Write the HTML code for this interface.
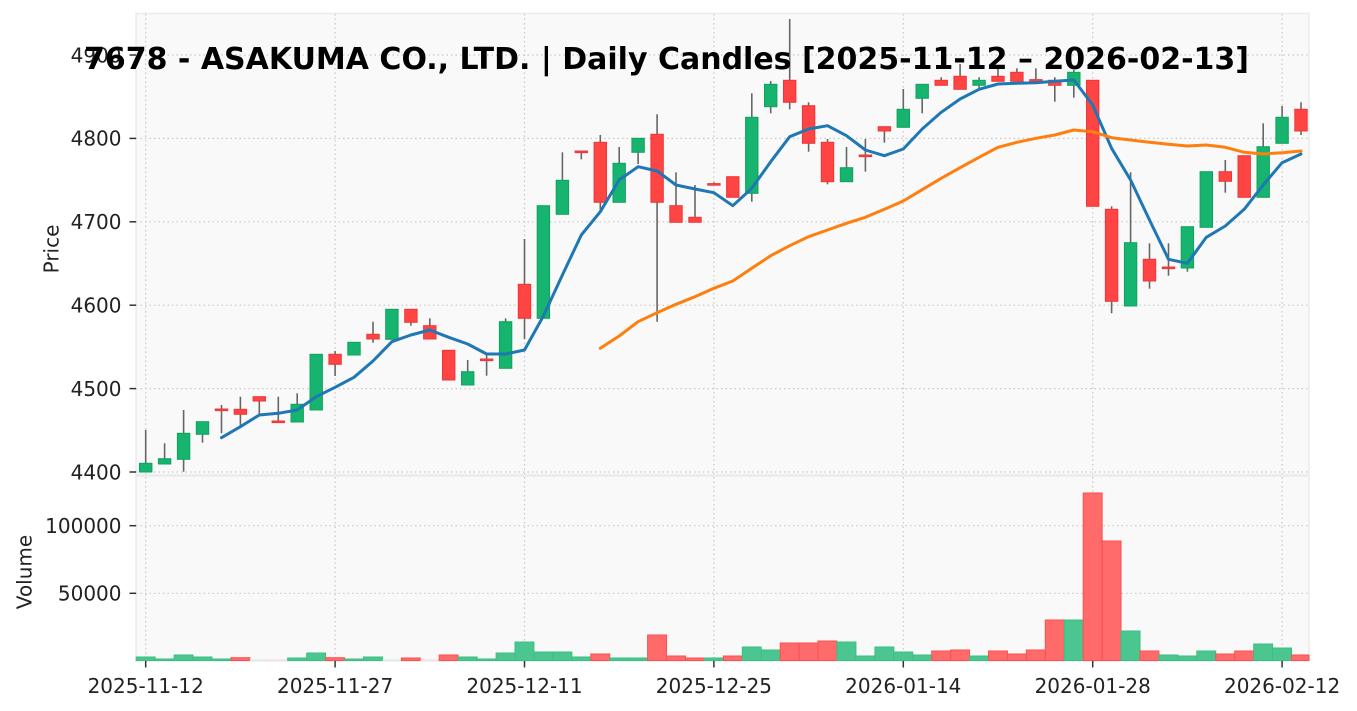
<!DOCTYPE html>
<html><head><meta charset="utf-8"><style>
html,body{margin:0;padding:0;background:#fff;}
svg{display:block;}
text{font-family:"DejaVu Sans","Liberation Sans",sans-serif;fill:#222;}
.grid{stroke:#c9c9c9;stroke-width:1.2;stroke-dasharray:1.5,3;}
.w{stroke:#666;stroke-width:1.6;}
.g{fill:#16b46e;stroke:#0ea35d;stroke-width:1;}
.r{fill:#ff4444;stroke:#ee3636;stroke-width:1;}
.vg{fill:#4cc690;stroke:#3bbf82;stroke-width:1;}
.vr{fill:#ff6b6b;stroke:#ff4f4f;stroke-width:1;}
.vpg{fill:#d4efe2;}
.vpr{fill:#fbd6d6;}
.tk{stroke:#333;stroke-width:1.5;}
</style></head><body>
<svg width="1357" height="711" viewBox="0 0 1357 711" xmlns="http://www.w3.org/2000/svg">
<rect x="0" y="0" width="1357" height="711" fill="#fff"/>
<rect x="136" y="13.5" width="1173" height="461.5" fill="#f9f9f9" stroke="#ebebeb" stroke-width="1.5"/>
<rect x="136" y="476" width="1173" height="185" fill="#f9f9f9" stroke="#ebebeb" stroke-width="1.5"/>
<g class="grid">
<line x1="136" y1="472" x2="1309" y2="472"/>
<line x1="136" y1="388.6" x2="1309" y2="388.6"/>
<line x1="136" y1="305.2" x2="1309" y2="305.2"/>
<line x1="136" y1="221.8" x2="1309" y2="221.8"/>
<line x1="136" y1="138.4" x2="1309" y2="138.4"/>
<line x1="136" y1="55" x2="1309" y2="55"/>
<line x1="136" y1="525.7" x2="1309" y2="525.7"/>
<line x1="136" y1="593.3" x2="1309" y2="593.3"/>
<line x1="145.7" y1="14" x2="145.7" y2="474"/><line x1="145.7" y1="477" x2="145.7" y2="660"/>
<line x1="335.1" y1="14" x2="335.1" y2="474"/><line x1="335.1" y1="477" x2="335.1" y2="660"/>
<line x1="524.5" y1="14" x2="524.5" y2="474"/><line x1="524.5" y1="477" x2="524.5" y2="660"/>
<line x1="713.9" y1="14" x2="713.9" y2="474"/><line x1="713.9" y1="477" x2="713.9" y2="660"/>
<line x1="903.3" y1="14" x2="903.3" y2="474"/><line x1="903.3" y1="477" x2="903.3" y2="660"/>
<line x1="1092.7" y1="14" x2="1092.7" y2="474"/><line x1="1092.7" y1="477" x2="1092.7" y2="660"/>
<line x1="1282.1" y1="14" x2="1282.1" y2="474"/><line x1="1282.1" y1="477" x2="1282.1" y2="660"/>
</g>
<g class="w">
<line x1="145.7" y1="430" x2="145.7" y2="472"/>
<line x1="164.6" y1="443.3" x2="164.6" y2="464"/>
<line x1="183.6" y1="410" x2="183.6" y2="471.7"/>
<line x1="202.5" y1="421.7" x2="202.5" y2="442.7"/>
<line x1="221.5" y1="405" x2="221.5" y2="433.3"/>
<line x1="240.4" y1="396.7" x2="240.4" y2="426.7"/>
<line x1="259.3" y1="396.7" x2="259.3" y2="415"/>
<line x1="278.3" y1="396.7" x2="278.3" y2="421.7"/>
<line x1="297.2" y1="393.3" x2="297.2" y2="422"/>
<line x1="335.1" y1="351" x2="335.1" y2="376"/>
<line x1="373.0" y1="321.7" x2="373.0" y2="342.7"/>
<line x1="410.9" y1="309.3" x2="410.9" y2="325.7"/>
<line x1="429.8" y1="318.3" x2="429.8" y2="339"/>
<line x1="467.7" y1="360" x2="467.7" y2="385"/>
<line x1="486.6" y1="355" x2="486.6" y2="375.7"/>
<line x1="505.6" y1="318.3" x2="505.6" y2="368.3"/>
<line x1="524.5" y1="239" x2="524.5" y2="339"/>
<line x1="562.4" y1="152.3" x2="562.4" y2="214.3"/>
<line x1="581.3" y1="151.7" x2="581.3" y2="159.3"/>
<line x1="600.3" y1="135" x2="600.3" y2="210"/>
<line x1="619.2" y1="147" x2="619.2" y2="202.3"/>
<line x1="638.1" y1="138.3" x2="638.1" y2="164"/>
<line x1="657.1" y1="114.3" x2="657.1" y2="321.7"/>
<line x1="676.0" y1="172.3" x2="676.0" y2="222.3"/>
<line x1="695.0" y1="185" x2="695.0" y2="222.3"/>
<line x1="713.9" y1="182.3" x2="713.9" y2="185.3"/>
<line x1="751.8" y1="93.3" x2="751.8" y2="201.7"/>
<line x1="770.7" y1="81" x2="770.7" y2="113.3"/>
<line x1="789.7" y1="19" x2="789.7" y2="109.3"/>
<line x1="808.6" y1="102.3" x2="808.6" y2="151.7"/>
<line x1="827.5" y1="139" x2="827.5" y2="184.3"/>
<line x1="846.5" y1="147" x2="846.5" y2="181.7"/>
<line x1="865.4" y1="139" x2="865.4" y2="171.7"/>
<line x1="884.4" y1="126.7" x2="884.4" y2="142.7"/>
<line x1="903.3" y1="89" x2="903.3" y2="127.3"/>
<line x1="922.2" y1="84.3" x2="922.2" y2="113.3"/>
<line x1="941.2" y1="77.3" x2="941.2" y2="85.3"/>
<line x1="960.1" y1="64" x2="960.1" y2="89.3"/>
<line x1="979.1" y1="77.3" x2="979.1" y2="88.3"/>
<line x1="998.0" y1="68.3" x2="998.0" y2="81.3"/>
<line x1="1016.9" y1="68.3" x2="1016.9" y2="81.3"/>
<line x1="1035.9" y1="68.3" x2="1035.9" y2="82"/>
<line x1="1054.8" y1="77.3" x2="1054.8" y2="101.7"/>
<line x1="1073.8" y1="70" x2="1073.8" y2="97.7"/>
<line x1="1111.6" y1="206.3" x2="1111.6" y2="313.3"/>
<line x1="1130.6" y1="172.3" x2="1130.6" y2="306"/>
<line x1="1149.5" y1="243.3" x2="1149.5" y2="288.7"/>
<line x1="1168.5" y1="243.3" x2="1168.5" y2="275.7"/>
<line x1="1187.4" y1="226.7" x2="1187.4" y2="271.7"/>
<line x1="1225.3" y1="160" x2="1225.3" y2="192.7"/>
<line x1="1263.2" y1="123.3" x2="1263.2" y2="197.3"/>
<line x1="1282.1" y1="106" x2="1282.1" y2="143.3"/>
<line x1="1301.0" y1="102.3" x2="1301.0" y2="135"/>
</g>
<g>
<rect class="g" x="139.5" y="463.3" width="12.4" height="8.7"/>
<rect class="g" x="158.4" y="458.7" width="12.4" height="5.3"/>
<rect class="g" x="177.4" y="433.3" width="12.4" height="26"/>
<rect class="g" x="196.3" y="421.7" width="12.4" height="12.6"/>
<rect class="r" x="215.3" y="409" width="12.4" height="1.6"/>
<rect class="r" x="234.2" y="409.3" width="12.4" height="5"/>
<rect class="r" x="253.1" y="396.7" width="12.4" height="4.3"/>
<rect class="r" x="272.1" y="421" width="12.4" height="1.6"/>
<rect class="g" x="291" y="404.3" width="12.4" height="17.7"/>
<rect class="g" x="310" y="354.3" width="12.4" height="55.7"/>
<rect class="r" x="328.9" y="354.3" width="12.4" height="10"/>
<rect class="g" x="347.8" y="342.3" width="12.4" height="12.7"/>
<rect class="r" x="366.8" y="334.3" width="12.4" height="4.7"/>
<rect class="g" x="385.7" y="309.3" width="12.4" height="30"/>
<rect class="r" x="404.7" y="309.3" width="12.4" height="13"/>
<rect class="r" x="423.6" y="325.7" width="12.4" height="13.3"/>
<rect class="r" x="442.5" y="350.3" width="12.4" height="29.7"/>
<rect class="g" x="461.5" y="371.7" width="12.4" height="13.3"/>
<rect class="r" x="480.4" y="359" width="12.4" height="1.6"/>
<rect class="g" x="499.4" y="321.7" width="12.4" height="46.6"/>
<rect class="r" x="518.3" y="284.3" width="12.4" height="34"/>
<rect class="g" x="537.2" y="205.7" width="12.4" height="112.6"/>
<rect class="g" x="556.2" y="180.3" width="12.4" height="34"/>
<rect class="r" x="575.1" y="151" width="12.4" height="1.6"/>
<rect class="r" x="594.1" y="142.3" width="12.4" height="60"/>
<rect class="g" x="613" y="163.3" width="12.4" height="39"/>
<rect class="g" x="631.9" y="138.3" width="12.4" height="14"/>
<rect class="r" x="650.9" y="134.3" width="12.4" height="68"/>
<rect class="r" x="669.8" y="205.7" width="12.4" height="16.6"/>
<rect class="r" x="688.8" y="217.3" width="12.4" height="5"/>
<rect class="r" x="707.7" y="183.6" width="12.4" height="1.6"/>
<rect class="r" x="726.6" y="176.7" width="12.4" height="20.6"/>
<rect class="g" x="745.6" y="117.3" width="12.4" height="76"/>
<rect class="g" x="764.5" y="84.3" width="12.4" height="22.4"/>
<rect class="r" x="783.5" y="80.3" width="12.4" height="22"/>
<rect class="r" x="802.4" y="105.7" width="12.4" height="37.6"/>
<rect class="r" x="821.3" y="142.3" width="12.4" height="39.4"/>
<rect class="g" x="840.3" y="167.7" width="12.4" height="14"/>
<rect class="r" x="859.2" y="155" width="12.4" height="1.6"/>
<rect class="r" x="878.2" y="126.7" width="12.4" height="4.3"/>
<rect class="g" x="897.1" y="109.3" width="12.4" height="18"/>
<rect class="g" x="916" y="84.3" width="12.4" height="14"/>
<rect class="r" x="935" y="80.3" width="12.4" height="5"/>
<rect class="r" x="953.9" y="76.3" width="12.4" height="13"/>
<rect class="g" x="972.9" y="80.3" width="12.4" height="5"/>
<rect class="r" x="991.8" y="76.3" width="12.4" height="5"/>
<rect class="r" x="1010.7" y="72.3" width="12.4" height="9"/>
<rect class="r" x="1029.7" y="79.6" width="12.4" height="1.6"/>
<rect class="r" x="1048.6" y="80.3" width="12.4" height="5"/>
<rect class="g" x="1067.6" y="72.3" width="12.4" height="13"/>
<rect class="r" x="1086.5" y="80.3" width="12.4" height="126"/>
<rect class="r" x="1105.4" y="209.3" width="12.4" height="92"/>
<rect class="g" x="1124.4" y="242.7" width="12.4" height="63.3"/>
<rect class="r" x="1143.3" y="259.3" width="12.4" height="21.7"/>
<rect class="r" x="1162.3" y="267" width="12.4" height="1.6"/>
<rect class="g" x="1181.2" y="226.7" width="12.4" height="41.3"/>
<rect class="g" x="1200.1" y="171.7" width="12.4" height="55.6"/>
<rect class="r" x="1219.1" y="171.7" width="12.4" height="9.6"/>
<rect class="r" x="1238" y="155.7" width="12.4" height="41.6"/>
<rect class="g" x="1257" y="146.7" width="12.4" height="50.6"/>
<rect class="g" x="1275.9" y="117.3" width="12.4" height="26"/>
<rect class="r" x="1294.8" y="109.3" width="12.4" height="21.7"/>
</g>
<polyline fill="none" stroke="#1f77b4" stroke-width="3" stroke-linejoin="round" stroke-linecap="round" points="221.5,437.7 240.4,426.7 259.3,415 278.3,413.3 297.2,410 316.2,396.7 335.1,387.3 354.0,377.3 373.0,361 391.9,341.7 410.9,335 429.8,330 448.7,337.3 467.7,344 486.6,354 505.6,354 524.5,350 543.4,316 562.4,275 581.3,235 600.3,211.7 619.2,180 638.1,166.7 657.1,171 676.0,185 695.0,189 713.9,192.7 732.8,205.7 751.8,188.3 770.7,161.7 789.7,136.7 808.6,129 827.5,125.7 846.5,135.7 865.4,150 884.4,155.7 903.3,149 922.2,129 941.2,112.3 960.1,99 979.1,89.3 998.0,84 1016.9,83.3 1035.9,82.7 1054.8,81.3 1073.8,80 1092.7,105 1111.6,148.3 1130.6,180 1149.5,220 1168.5,259.3 1187.4,263.3 1206.3,237.3 1225.3,226 1244.2,209.3 1263.2,185 1282.1,162.7 1301.0,154"/>
<polyline fill="none" stroke="#ff7f0e" stroke-width="3" stroke-linejoin="round" stroke-linecap="round" points="600.3,348.3 619.2,336 638.1,321.7 657.1,312.7 676.0,304.3 695.0,296.7 713.9,288.3 732.8,281 751.8,268.3 770.7,255.7 789.7,245.7 808.6,236.7 827.5,230 846.5,223.3 865.4,217.3 884.4,209.3 903.3,201 922.2,189.7 941.2,178.3 960.1,167.7 979.1,157.3 998.0,147.3 1016.9,142.3 1035.9,138.3 1054.8,135 1073.8,130 1092.7,131.7 1111.6,137.7 1130.6,140 1149.5,142.3 1168.5,144.3 1187.4,146 1206.3,145 1225.3,147.3 1244.2,152.3 1263.2,154 1282.1,152.7 1301.0,151"/>
<g>
<rect class="vg" x="136.2" y="657" width="18.94" height="3.5"/>
<rect class="vg" x="155.1" y="659" width="18.94" height="1.5"/>
<rect class="vg" x="174.1" y="655" width="18.94" height="5.5"/>
<rect class="vg" x="193.0" y="657" width="18.94" height="3.5"/>
<rect class="vg" x="212.0" y="659" width="18.94" height="1.5"/>
<rect class="vr" x="230.9" y="657.7" width="18.94" height="2.8"/>
<rect class="vpg" x="249.8" y="659.5" width="18.94" height="1"/>
<rect class="vpr" x="268.8" y="659.5" width="18.94" height="1"/>
<rect class="vg" x="287.7" y="658" width="18.94" height="2.5"/>
<rect class="vg" x="306.7" y="653" width="18.94" height="7.5"/>
<rect class="vr" x="325.6" y="657.7" width="18.94" height="2.8"/>
<rect class="vg" x="344.5" y="659" width="18.94" height="1.5"/>
<rect class="vg" x="363.5" y="657" width="18.94" height="3.5"/>
<rect class="vpg" x="382.4" y="659.5" width="18.94" height="1"/>
<rect class="vr" x="401.4" y="658" width="18.94" height="2.5"/>
<rect class="vpr" x="420.3" y="659.5" width="18.94" height="1"/>
<rect class="vr" x="439.2" y="655" width="18.94" height="5.5"/>
<rect class="vg" x="458.2" y="657" width="18.94" height="3.5"/>
<rect class="vg" x="477.1" y="659" width="18.94" height="1.5"/>
<rect class="vg" x="496.1" y="653" width="18.94" height="7.5"/>
<rect class="vg" x="515.0" y="642" width="18.94" height="18.5"/>
<rect class="vg" x="533.9" y="652" width="18.94" height="8.5"/>
<rect class="vg" x="552.9" y="652" width="18.94" height="8.5"/>
<rect class="vg" x="571.8" y="657" width="18.94" height="3.5"/>
<rect class="vr" x="590.8" y="654" width="18.94" height="6.5"/>
<rect class="vg" x="609.7" y="658" width="18.94" height="2.5"/>
<rect class="vg" x="628.6" y="658" width="18.94" height="2.5"/>
<rect class="vr" x="647.6" y="635" width="18.94" height="25.5"/>
<rect class="vr" x="666.5" y="656" width="18.94" height="4.5"/>
<rect class="vr" x="685.5" y="658" width="18.94" height="2.5"/>
<rect class="vg" x="704.4" y="658" width="18.94" height="2.5"/>
<rect class="vr" x="723.3" y="656" width="18.94" height="4.5"/>
<rect class="vg" x="742.3" y="647" width="18.94" height="13.5"/>
<rect class="vg" x="761.2" y="650" width="18.94" height="10.5"/>
<rect class="vr" x="780.2" y="643" width="18.94" height="17.5"/>
<rect class="vr" x="799.1" y="643" width="18.94" height="17.5"/>
<rect class="vr" x="818.0" y="641" width="18.94" height="19.5"/>
<rect class="vg" x="837.0" y="642" width="18.94" height="18.5"/>
<rect class="vg" x="855.9" y="656" width="18.94" height="4.5"/>
<rect class="vg" x="874.9" y="647" width="18.94" height="13.5"/>
<rect class="vg" x="893.8" y="652" width="18.94" height="8.5"/>
<rect class="vg" x="912.7" y="655" width="18.94" height="5.5"/>
<rect class="vr" x="931.7" y="651" width="18.94" height="9.5"/>
<rect class="vr" x="950.6" y="650" width="18.94" height="10.5"/>
<rect class="vg" x="969.6" y="656" width="18.94" height="4.5"/>
<rect class="vr" x="988.5" y="651" width="18.94" height="9.5"/>
<rect class="vr" x="1007.4" y="654" width="18.94" height="6.5"/>
<rect class="vr" x="1026.4" y="650" width="18.94" height="10.5"/>
<rect class="vr" x="1045.3" y="620" width="18.94" height="40.5"/>
<rect class="vg" x="1064.3" y="620" width="18.94" height="40.5"/>
<rect class="vr" x="1083.2" y="493" width="18.94" height="167.5"/>
<rect class="vr" x="1102.1" y="541" width="18.94" height="119.5"/>
<rect class="vg" x="1121.1" y="631" width="18.94" height="29.5"/>
<rect class="vr" x="1140.0" y="651" width="18.94" height="9.5"/>
<rect class="vg" x="1159.0" y="655" width="18.94" height="5.5"/>
<rect class="vg" x="1177.9" y="656" width="18.94" height="4.5"/>
<rect class="vg" x="1196.8" y="651" width="18.94" height="9.5"/>
<rect class="vr" x="1215.8" y="654" width="18.94" height="6.5"/>
<rect class="vr" x="1234.7" y="651" width="18.94" height="9.5"/>
<rect class="vg" x="1253.7" y="644" width="18.94" height="16.5"/>
<rect class="vg" x="1272.6" y="648" width="18.94" height="12.5"/>
<rect class="vr" x="1291.5" y="655" width="17.5" height="5.5"/>
</g>
<g class="tk">
<line x1="129.5" y1="472" x2="136" y2="472"/>
<line x1="129.5" y1="388.6" x2="136" y2="388.6"/>
<line x1="129.5" y1="305.2" x2="136" y2="305.2"/>
<line x1="129.5" y1="221.8" x2="136" y2="221.8"/>
<line x1="129.5" y1="138.4" x2="136" y2="138.4"/>
<line x1="129.5" y1="55" x2="136" y2="55"/>
<line x1="129.5" y1="525.7" x2="136" y2="525.7"/>
<line x1="129.5" y1="593.3" x2="136" y2="593.3"/>
<line x1="145.7" y1="661" x2="145.7" y2="667.5"/>
<line x1="335.1" y1="661" x2="335.1" y2="667.5"/>
<line x1="524.5" y1="661" x2="524.5" y2="667.5"/>
<line x1="713.9" y1="661" x2="713.9" y2="667.5"/>
<line x1="903.3" y1="661" x2="903.3" y2="667.5"/>
<line x1="1092.7" y1="661" x2="1092.7" y2="667.5"/>
<line x1="1282.1" y1="661" x2="1282.1" y2="667.5"/>
</g>
<g font-size="20" text-anchor="end">
<text x="121.5" y="479.3">4400</text>
<text x="121.5" y="395.9">4500</text>
<text x="121.5" y="312.5">4600</text>
<text x="121.5" y="229.1">4700</text>
<text x="121.5" y="145.7">4800</text>
<text x="121.5" y="62.3">4900</text>
<text x="121.5" y="533">100000</text>
<text x="121.5" y="600.6">50000</text>
</g>
<g font-size="20" text-anchor="middle">
<text x="145.7" y="693">2025-11-12</text>
<text x="335.1" y="693">2025-11-27</text>
<text x="524.5" y="693">2025-12-11</text>
<text x="713.9" y="693">2025-12-25</text>
<text x="903.3" y="693">2026-01-14</text>
<text x="1092.7" y="693">2026-01-28</text>
<text x="1282.1" y="693">2026-02-12</text>
</g>
<text font-size="20" text-anchor="middle" transform="translate(58.5,249) rotate(-90)">Price</text>
<text font-size="20" text-anchor="middle" transform="translate(31.5,572) rotate(-90)">Volume</text>
<text x="666.5" y="69" font-size="30" font-weight="bold" text-anchor="middle" textLength="1165" lengthAdjust="spacingAndGlyphs" style="fill:#000">7678 - ASAKUMA CO., LTD. | Daily Candles [2025-11-12 – 2026-02-13]</text>
</svg>
</body></html>
